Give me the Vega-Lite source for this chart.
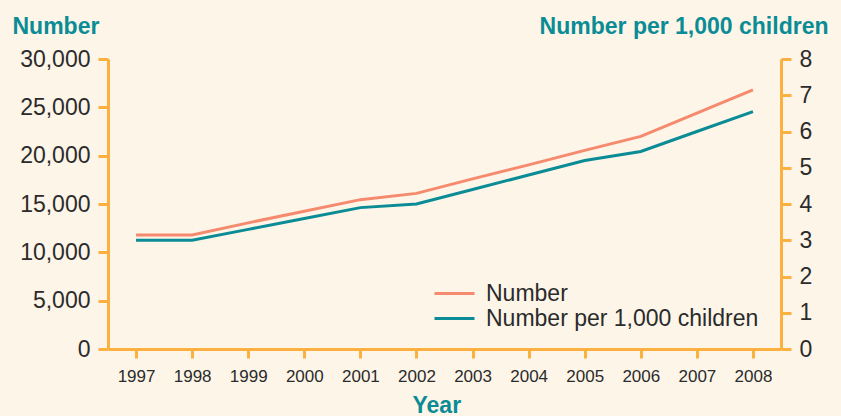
{
  "$schema": "https://vega.github.io/schema/vega-lite/v6.json",
  "width": 673,
  "height": 290,
  "autosize": {"type": "none"},
  "padding": {"left": 108, "top": 59, "right": 60, "bottom": 67},
  "background": "#FDF5E8",
  "config": {
    "view": {"stroke": null},
    "font": "Liberation Sans",
    "axis": {
      "domainColor": "#FBB040",
      "domainWidth": 3,
      "tickColor": "#FBB040",
      "tickWidth": 3,
      "tickSize": 10,
      "grid": false,
      "labelColor": "#2B2B2B",
      "labelFont": "Liberation Sans",
      "titleColor": "#0A8C96",
      "titleFont": "Liberation Sans",
      "titleFontWeight": "bold",
      "titleFontSize": 23
    }
  },
  "data": {
    "values": [
      {"year": "1997", "number": 11800, "rate": 3.0},
      {"year": "1998", "number": 11800, "rate": 3.0},
      {"year": "1999", "number": 13050, "rate": 3.3},
      {"year": "2000", "number": 14250, "rate": 3.6},
      {"year": "2001", "number": 15450, "rate": 3.9},
      {"year": "2002", "number": 16100, "rate": 4.0},
      {"year": "2003", "number": 17600, "rate": 4.4},
      {"year": "2004", "number": 19050, "rate": 4.8},
      {"year": "2005", "number": 20550, "rate": 5.2},
      {"year": "2006", "number": 22000, "rate": 5.45},
      {"year": "2007", "number": 24400, "rate": 6.0},
      {"year": "2008", "number": 26800, "rate": 6.55}
    ]
  },
  "encoding": {
    "x": {
      "field": "year",
      "type": "ordinal",
      "scale": {"type": "point", "padding": 0.5},
      "axis": {
        "title": "Year",
        "labelAngle": 0,
        "labelFontSize": 17,
        "labelPadding": 10,
        "tickSize": 9,
        "titleX": 304,
        "titleY": 63,
        "titleAlign": "left",
        "titleBaseline": "alphabetic"
      }
    }
  },
  "layer": [
    {
      "mark": {"type": "line", "strokeWidth": 3},
      "encoding": {
        "y": {
          "field": "number",
          "type": "quantitative",
          "scale": {"domain": [0, 30000], "nice": false},
          "axis": {
            "title": "Number",
            "orient": "left",
            "values": [0, 5000, 10000, 15000, 20000, 25000, 30000],
            "format": ",d",
            "labelFontSize": 23,
            "labelPadding": 8,
            "titleAngle": 0,
            "titleX": -96,
            "titleY": -26,
            "titleAlign": "left",
            "titleBaseline": "alphabetic"
          }
        },
        "color": {
          "datum": "Number",
          "type": "nominal",
          "scale": {
            "domain": ["Number", "Number per 1,000 children"],
            "range": ["#F58A6E", "#0A8C96"]
          },
          "legend": {
            "title": null,
            "orient": "none",
            "legendX": 325,
            "legendY": 222,
            "symbolType": "stroke",
            "symbolSize": 1600,
            "symbolStrokeWidth": 3,
            "labelFontSize": 23,
            "labelColor": "#2B2B2B",
            "labelLimit": 400,
            "labelOffset": 10,
            "clipHeight": 25,
            "rowPadding": 0
          }
        }
      }
    },
    {
      "mark": {"type": "line", "strokeWidth": 3},
      "encoding": {
        "y": {
          "field": "rate",
          "type": "quantitative",
          "scale": {"domain": [0, 8], "nice": false},
          "axis": {
            "title": "Number per 1,000 children",
            "orient": "right",
            "values": [0, 1, 2, 3, 4, 5, 6, 7, 8],
            "labelFontSize": 23,
            "labelPadding": 8,
            "titleAngle": 0,
            "titleX": 47,
            "titleY": -26,
            "titleAlign": "right",
            "titleBaseline": "alphabetic"
          }
        },
        "color": {"datum": "Number per 1,000 children", "type": "nominal"}
      }
    }
  ],
  "resolve": {"scale": {"y": "independent"}}
}
